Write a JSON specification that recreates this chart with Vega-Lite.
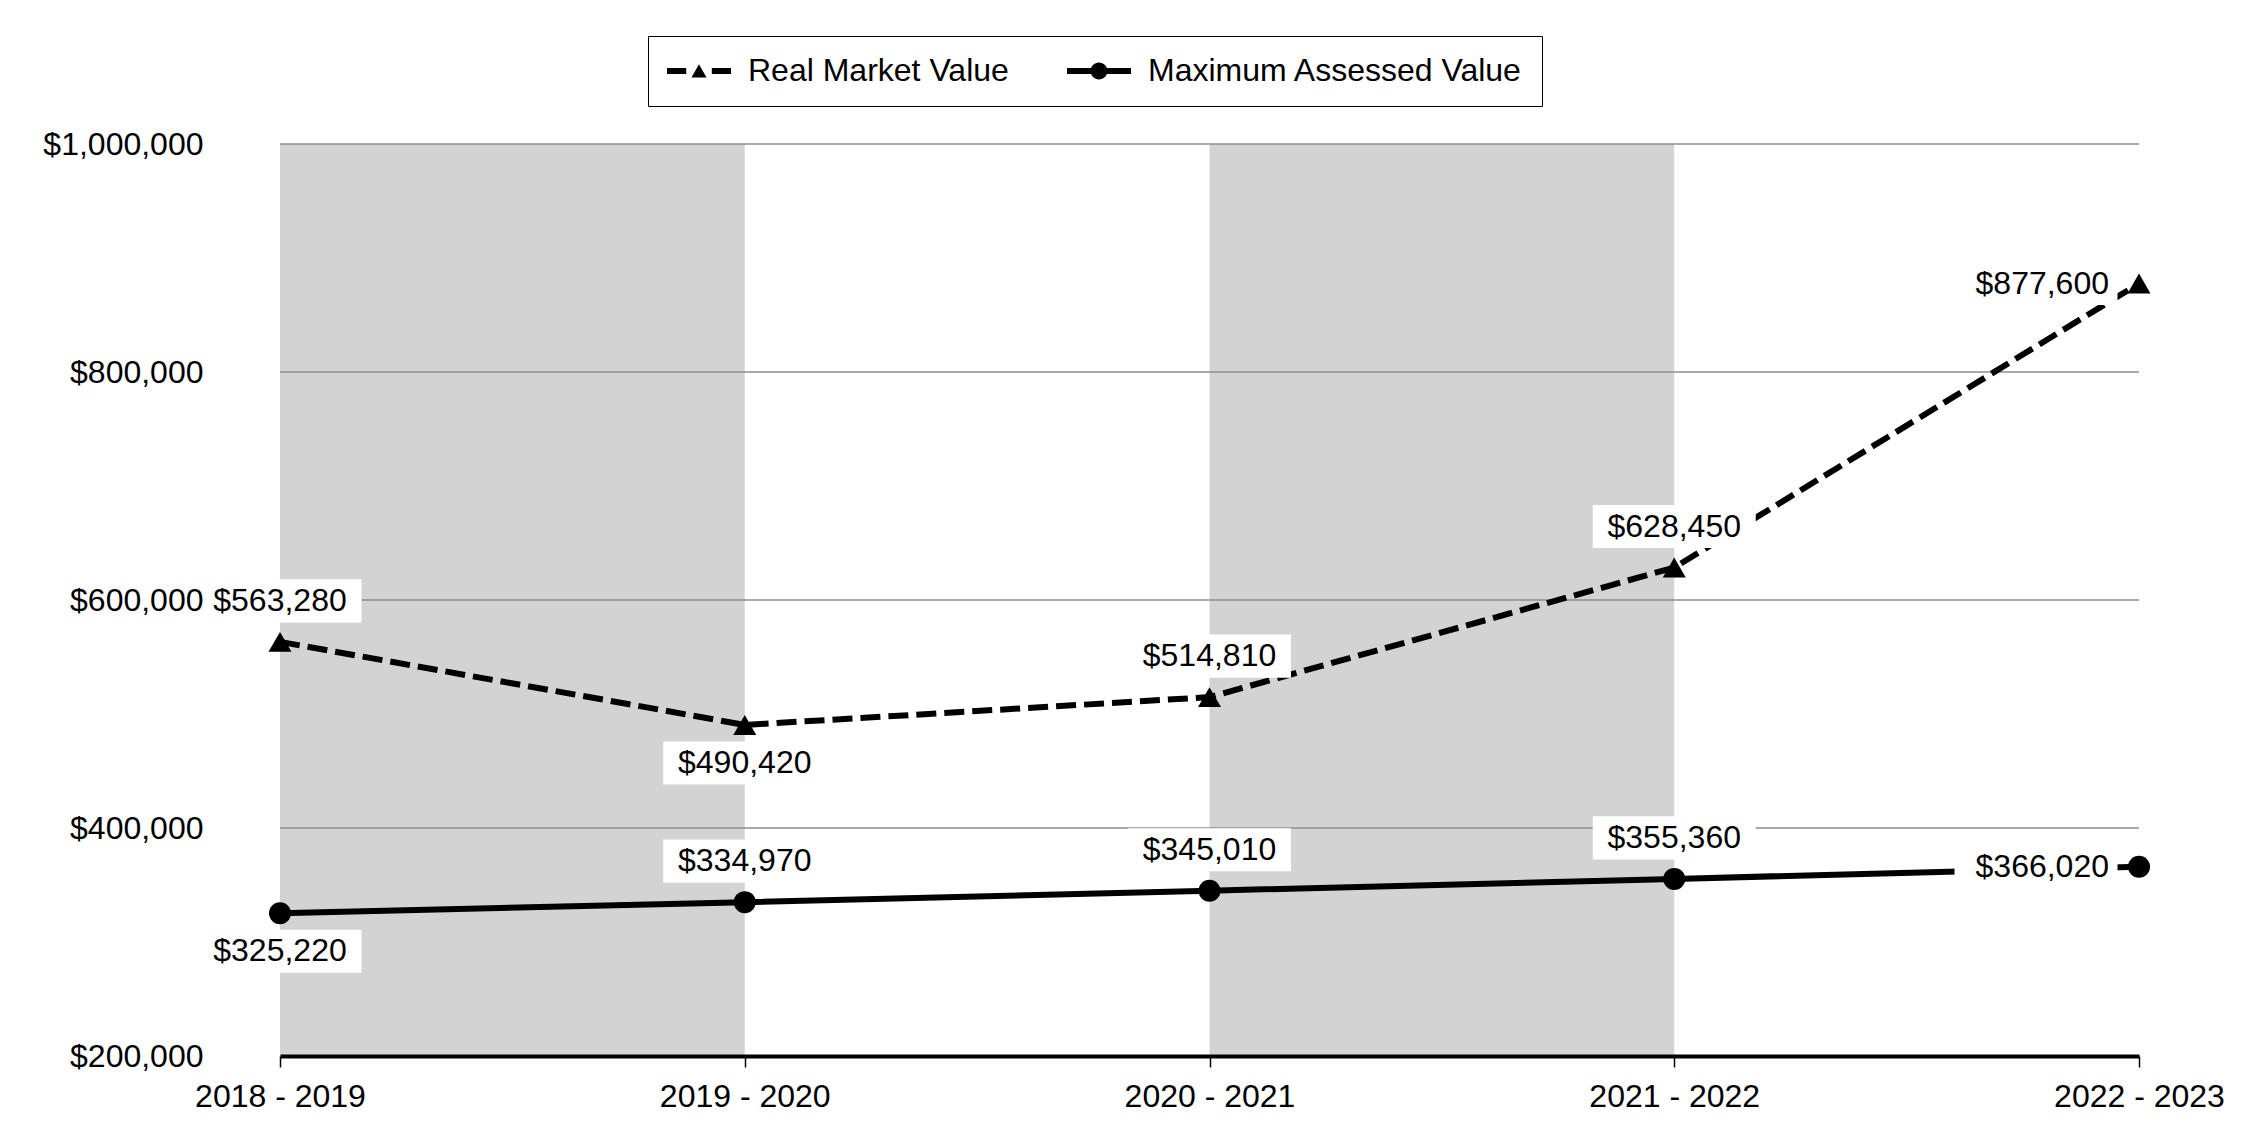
{
  "$schema": "https://vega.github.io/schema/vega-lite/v6.json",
  "width": 1859,
  "height": 912,
  "autosize": {"type": "none"},
  "padding": {"left": 280, "top": 144, "right": 111, "bottom": 84},
  "background": "white",
  "config": {
    "view": {"stroke": null},
    "font": "Liberation Sans",
    "axis": {"labelFont": "Liberation Sans", "labelFontSize": 32, "labelColor": "black", "grid": false},
    "axisX": {"domainColor": "black", "domainWidth": 4, "tickColor": "black", "tickWidth": 1.5, "tickSize": 11, "labelPadding": 14, "labelAngle": 0},
    "axisY": {"domain": false, "ticks": false, "tickSize": 0, "labelPadding": 77}
  },
  "datasets": {
    "values": [
      {"year": "2018 - 2019", "series": "Real Market Value", "value": 563280},
      {"year": "2019 - 2020", "series": "Real Market Value", "value": 490420},
      {"year": "2020 - 2021", "series": "Real Market Value", "value": 514810},
      {"year": "2021 - 2022", "series": "Real Market Value", "value": 628450},
      {"year": "2022 - 2023", "series": "Real Market Value", "value": 877600},
      {"year": "2018 - 2019", "series": "Maximum Assessed Value", "value": 325220},
      {"year": "2019 - 2020", "series": "Maximum Assessed Value", "value": 334970},
      {"year": "2020 - 2021", "series": "Maximum Assessed Value", "value": 345010},
      {"year": "2021 - 2022", "series": "Maximum Assessed Value", "value": 355360},
      {"year": "2022 - 2023", "series": "Maximum Assessed Value", "value": 366020}
    ],
    "bands": [
      {"from": "2018 - 2019", "to": "2019 - 2020"},
      {"from": "2020 - 2021", "to": "2021 - 2022"}
    ],
    "grid": [
      {"level": 400000},
      {"level": 600000},
      {"level": 800000},
      {"level": 1000000}
    ]
  },
  "layer": [
    {
      "data": {"name": "bands"},
      "mark": {"type": "rect", "color": "#d3d3d3"},
      "encoding": {
        "x": {"field": "from", "type": "ordinal", "title": null, "scale": {"type": "point", "padding": 0, "domain": ["2018 - 2019", "2019 - 2020", "2020 - 2021", "2021 - 2022", "2022 - 2023"]}},
        "x2": {"field": "to"},
        "y": {"datum": 1000000, "type": "quantitative", "title": null, "scale": {"domain": [200000, 1000000], "nice": false, "zero": false}, "axis": {"values": [200000, 400000, 600000, 800000, 1000000], "format": "$,.0f", "title": null, "zindex": 1}},
        "y2": {"datum": 200000}
      }
    },
    {
      "data": {"name": "grid"},
      "mark": {"type": "rule", "color": "#8e8e8e", "strokeWidth": 1.5},
      "encoding": {
        "y": {"field": "level", "type": "quantitative", "title": null, "axis": {"values": [200000, 400000, 600000, 800000, 1000000], "format": "$,.0f", "title": null, "zindex": 1}}
      }
    },
    {
      "data": {"name": "values"},
      "transform": [{"filter": "datum.series == 'Real Market Value'"}],
      "mark": {"type": "line", "strokeWidth": 6, "color": "black", "strokeDash": [20, 8]},
      "encoding": {
        "x": {"field": "year", "type": "ordinal", "title": null},
        "y": {"field": "value", "type": "quantitative", "title": null, "axis": {"values": [200000, 400000, 600000, 800000, 1000000], "format": "$,.0f", "title": null, "zindex": 1}}
      }
    },
    {
      "data": {"name": "values"},
      "transform": [{"filter": "datum.series == 'Maximum Assessed Value'"}],
      "mark": {"type": "line", "strokeWidth": 6, "color": "black"},
      "encoding": {
        "x": {"field": "year", "type": "ordinal", "title": null},
        "y": {"field": "value", "type": "quantitative", "title": null, "axis": {"values": [200000, 400000, 600000, 800000, 1000000], "format": "$,.0f", "title": null, "zindex": 1}}
      }
    },
    {
      "data": {"name": "values"},
      "mark": {"type": "point", "filled": true, "color": "black", "size": 0, "strokeWidth": 0},
      "encoding": {
        "x": {"field": "year", "type": "ordinal", "title": null},
        "y": {"field": "value", "type": "quantitative", "title": null},
        "shape": {
          "field": "series", "type": "nominal",
          "scale": {"domain": ["Real Market Value", "Maximum Assessed Value"], "range": ["M-2,-0.19L-0.8,-0.19L-0.8,0.19L-2,0.19Z M0.8,-0.19L2,-0.19L2,0.19L0.8,0.19Z M-0.47,0.4L0,-0.42L0.47,0.4Z", "M-2,-0.19L-0.5,-0.19L-0.5,0.19L-2,0.19Z M0.5,-0.19L2,-0.19L2,0.19L0.5,0.19Z M0.53,0A0.53,0.53,0,1,1,-0.53,0A0.53,0.53,0,1,1,0.53,0Z"]},
          "legend": {
            "title": null,
            "orient": "none",
            "legendX": 368,
            "legendY": -108,
            "direction": "horizontal",
            "padding": 19,
            "strokeColor": "black",
            "fillColor": "white",
            "labelFont": "Liberation Sans",
            "labelFontSize": 32,
            "labelColor": "black",
            "labelLimit": 1000,
            "symbolSize": 1024,
            "symbolStrokeWidth": 0,
            "symbolFillColor": "black",
            "symbolOpacity": 1,
            "symbolOffset": 16,
            "labelOffset": 33,
            "columnPadding": 58,
            "labelExpr": "datum.label == 'Maximum Assessed Value' ? datum.label + '\u2003\u2003\u2002' : datum.label"
          }
        }
      }
    },
    {
      "data": {"name": "values"},
      "transform": [{"filter": "datum.year != '2022 - 2023' && !(datum.series == 'Real Market Value' && datum.year == '2019 - 2020') && !(datum.series == 'Maximum Assessed Value' && datum.year == '2018 - 2019')"}],
      "mark": {"type": "point", "shape": "M-1,-0.264L1,-0.264L1,0.264L-1,0.264Z", "size": 26569, "filled": true, "color": "white", "opacity": 1, "strokeWidth": 0, "yOffset": -41},
      "encoding": {
        "x": {"field": "year", "type": "ordinal", "title": null},
        "y": {"field": "value", "type": "quantitative", "title": null}
      }
    },
    {
      "data": {"name": "values"},
      "transform": [{"filter": "(datum.series == 'Real Market Value' && datum.year == '2019 - 2020') || (datum.series == 'Maximum Assessed Value' && datum.year == '2018 - 2019')"}],
      "mark": {"type": "point", "shape": "M-1,-0.264L1,-0.264L1,0.264L-1,0.264Z", "size": 26569, "filled": true, "color": "white", "opacity": 1, "strokeWidth": 0, "yOffset": 38},
      "encoding": {
        "x": {"field": "year", "type": "ordinal", "title": null},
        "y": {"field": "value", "type": "quantitative", "title": null}
      }
    },
    {
      "data": {"name": "values"},
      "transform": [{"filter": "datum.year == '2022 - 2023'"}],
      "mark": {"type": "point", "shape": "M-1,-0.264L1,-0.264L1,0.264L-1,0.264Z", "size": 26569, "filled": true, "color": "white", "opacity": 1, "strokeWidth": 0, "xOffset": -103},
      "encoding": {
        "x": {"field": "year", "type": "ordinal", "title": null},
        "y": {"field": "value", "type": "quantitative", "title": null}
      }
    },
    {
      "data": {"name": "values"},
      "transform": [{"filter": "datum.series == 'Real Market Value'"}],
      "mark": {"type": "point", "shape": "triangle-up", "filled": true, "opacity": 1, "size": 529, "color": "black", "strokeWidth": 0},
      "encoding": {
        "x": {"field": "year", "type": "ordinal", "title": null},
        "y": {"field": "value", "type": "quantitative", "title": null}
      }
    },
    {
      "data": {"name": "values"},
      "transform": [{"filter": "datum.series == 'Maximum Assessed Value'"}],
      "mark": {"type": "point", "shape": "circle", "filled": true, "opacity": 1, "size": 484, "color": "black", "strokeWidth": 0},
      "encoding": {
        "x": {"field": "year", "type": "ordinal", "title": null},
        "y": {"field": "value", "type": "quantitative", "title": null}
      }
    },
    {
      "data": {"name": "values"},
      "transform": [{"filter": "datum.year != '2022 - 2023' && !(datum.series == 'Real Market Value' && datum.year == '2019 - 2020') && !(datum.series == 'Maximum Assessed Value' && datum.year == '2018 - 2019')"}],
      "mark": {"type": "text", "font": "Liberation Sans", "fontSize": 32, "color": "black", "align": "center", "baseline": "middle", "yOffset": -41},
      "encoding": {
        "x": {"field": "year", "type": "ordinal", "title": null},
        "y": {"field": "value", "type": "quantitative", "title": null},
        "text": {"field": "value", "type": "quantitative", "format": "$,.0f"}
      }
    },
    {
      "data": {"name": "values"},
      "transform": [{"filter": "(datum.series == 'Real Market Value' && datum.year == '2019 - 2020') || (datum.series == 'Maximum Assessed Value' && datum.year == '2018 - 2019')"}],
      "mark": {"type": "text", "font": "Liberation Sans", "fontSize": 32, "color": "black", "align": "center", "baseline": "middle", "yOffset": 38},
      "encoding": {
        "x": {"field": "year", "type": "ordinal", "title": null},
        "y": {"field": "value", "type": "quantitative", "title": null},
        "text": {"field": "value", "type": "quantitative", "format": "$,.0f"}
      }
    },
    {
      "data": {"name": "values"},
      "transform": [{"filter": "datum.year == '2022 - 2023'"}],
      "mark": {"type": "text", "font": "Liberation Sans", "fontSize": 32, "color": "black", "align": "right", "baseline": "middle", "xOffset": -30},
      "encoding": {
        "x": {"field": "year", "type": "ordinal", "title": null},
        "y": {"field": "value", "type": "quantitative", "title": null},
        "text": {"field": "value", "type": "quantitative", "format": "$,.0f"}
      }
    }
  ]
}
